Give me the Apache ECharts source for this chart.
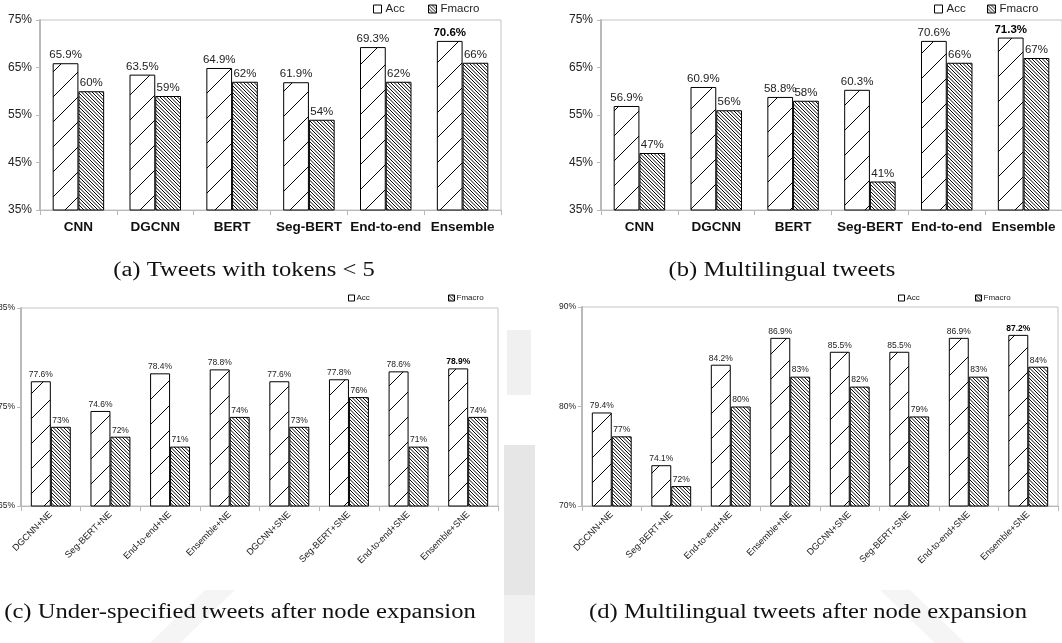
<!DOCTYPE html>
<html>
<head>
<meta charset="utf-8">
<script src="https://cdn.jsdelivr.net/npm/echarts@6/dist/echarts.min.js"></script>
<style>
  html, body { margin: 0; padding: 0; background: #fff; }
  #chart { width: 1062px; height: 643px; }
</style>
</head>
<body>
<div id="chart"></div>
<script>
// Panel (a) and (b): single-stage models
const categoriesAB = ['CNN', 'DGCNN', 'BERT', 'Seg-BERT', 'End-to-end', 'Ensemble'];
const accA = [65.9, 63.5, 64.9, 61.9, 69.3, 70.6];
const fmacroA = [60, 59, 62, 54, 62, 66];
const accB = [56.9, 60.9, 58.8, 60.3, 70.6, 71.3];
const fmacroB = [47, 56, 58, 41, 66, 67];

// Panel (c) and (d): models after node expansion
const categoriesCD = ['DGCNN+NE', 'Seg-BERT+NE', 'End-to-end+NE', 'Ensemble+NE',
                      'DGCNN+SNE', 'Seg-BERT+SNE', 'End-to-end+SNE', 'Ensemble+SNE'];
const accC = [77.6, 74.6, 78.4, 78.8, 77.6, 77.8, 78.6, 78.9];
const fmacroC = [73, 72, 71, 74, 73, 76, 71, 74];
const accD = [79.4, 74.1, 84.2, 86.9, 85.5, 85.5, 86.9, 87.2];
const fmacroD = [77, 72, 80, 83, 82, 79, 83, 84];

const captions = [
  '(a) Tweets with tokens < 5',
  '(b) Multilingual tweets',
  '(c) Under-specified tweets after node expansion',
  '(d) Multilingual tweets after node expansion'
];

// Hatch fills
function sparseHatch() {
  const s = 25, c = document.createElement('canvas');
  c.width = s; c.height = s;
  const g = c.getContext('2d');
  g.fillStyle = '#fff'; g.fillRect(0, 0, s, s);
  g.strokeStyle = '#000'; g.lineWidth = 1;
  for (const o of [0, s]) {
    g.beginPath(); g.moveTo(o - s - 1, s + 1); g.lineTo(o + 1, -1); g.stroke();
  }
  g.beginPath(); g.moveTo(-1, s + 1); g.lineTo(s + 1, -1); g.stroke();
  return c;
}
function denseHatch() {
  const s = 7, c = document.createElement('canvas');
  c.width = s; c.height = s;
  const g = c.getContext('2d');
  g.fillStyle = '#fff'; g.fillRect(0, 0, s, s);
  g.strokeStyle = '#000'; g.lineWidth = 1;
  for (const o of [-7, -3.5, 0, 3.5, 7]) {
    g.beginPath(); g.moveTo(o - 1, -1); g.lineTo(o + s + 1, s + 1); g.stroke();
  }
  return c;
}
const accFill = { image: sparseHatch(), repeat: 'repeat' };
const fmacroFill = { image: denseHatch(), repeat: 'repeat' };

const FONT = 'Liberation Sans, Arial, sans-serif';
const AXIS_GREY = '#b9b9b9';

const panels = [
  { cats: categoriesAB, acc: accA, f: fmacroA, min: 35, max: 75,
    grid: { left: 40, top: 20, width: 461, height: 190 },
    big: true, legendAcc: [373, 3], legendF: [428, 3] },
  { cats: categoriesAB, acc: accB, f: fmacroB, min: 35, max: 75,
    grid: { left: 601, top: 20, width: 461, height: 190 },
    big: true, legendAcc: [934, 3], legendF: [987, 3] },
  { cats: categoriesCD, acc: accC, f: fmacroC, min: 65, max: 85,
    grid: { left: 21, top: 308, width: 477, height: 198 },
    big: false, legendAcc: [348, 294], legendF: [448, 294] },
  { cats: categoriesCD, acc: accD, f: fmacroD, min: 70, max: 90,
    grid: { left: 582, top: 307, width: 476, height: 199 },
    big: false, legendAcc: [898, 294], legendF: [975, 294] }
];

const grid = [], xAxis = [], yAxis = [], series = [], legend = [];

panels.forEach((p, i) => {
  const labelSize = p.big ? 11.5 : 8.5;
  grid.push(Object.assign({
    show: true, backgroundColor: '#fff', borderColor: '#c4c4c4', borderWidth: 1,
    containLabel: false, outerBoundsMode: 'none'
  }, p.grid));
  xAxis.push({
    type: 'category', gridIndex: i, data: p.cats,
    axisLine: { lineStyle: { color: AXIS_GREY, width: 1 } },
    axisTick: { show: true, length: 5, lineStyle: { color: AXIS_GREY } },
    axisLabel: p.big
      ? { fontFamily: FONT, fontSize: 13.5, fontWeight: 'bold', color: '#111', margin: 10, interval: 0 }
      : { fontFamily: FONT, fontSize: 9.2, color: '#222', rotate: 45, margin: 7, interval: 0 }
  });
  yAxis.push({
    type: 'value', gridIndex: i, min: p.min, max: p.max, interval: 10,
    splitLine: { show: false },
    axisLine: { show: true, lineStyle: { color: AXIS_GREY, width: 2 } },
    axisTick: { show: true, length: 4, lineStyle: { color: AXIS_GREY } },
    axisLabel: { formatter: '{value}%', fontFamily: FONT,
                 fontSize: p.big ? 12 : 8.5, color: '#222', margin: p.big ? 8 : 6 }
  });
  const last = p.acc.length - 1;
  series.push({
    name: 'Acc', type: 'bar', xAxisIndex: i, yAxisIndex: i,
    barGap: '0%', barCategoryGap: '33%',
    itemStyle: { color: accFill, borderColor: '#000', borderWidth: 1 },
    label: { show: true, position: 'top', distance: 2, fontFamily: FONT,
             fontSize: labelSize, color: '#222',
             formatter: d => d.value.toFixed(1) + '%' },
    data: p.acc.map((v, k) => k === last
      ? { value: v, label: { fontWeight: 'bold', color: '#000' } }
      : v)
  });
  series.push({
    name: 'Fmacro', type: 'bar', xAxisIndex: i, yAxisIndex: i,
    barGap: '0%', barCategoryGap: '33%',
    itemStyle: { color: fmacroFill, borderColor: '#000', borderWidth: 1 },
    label: { show: true, position: 'top', distance: 2, fontFamily: FONT,
             fontSize: labelSize, color: '#222', formatter: '{c}%' },
    data: p.f
  });
  const legendBase = {
    orient: 'horizontal', padding: 0, selectedMode: false,
    itemWidth: p.big ? 8 : 6, itemHeight: p.big ? 8 : 6, itemGap: 6,
    textStyle: { fontFamily: FONT, fontSize: p.big ? 11.5 : 8, color: '#222',
                 padding: p.big ? [0, 0, 0, -1] : [0, 0, 0, -3] }
  };
  legend.push(Object.assign({}, legendBase, {
    left: p.legendAcc[0], top: p.legendAcc[1],
    data: [{ name: 'Acc', icon: 'rect',
             itemStyle: { color: '#fff', borderColor: '#000', borderWidth: 1 } }]
  }));
  legend.push(Object.assign({}, legendBase, {
    left: p.legendF[0], top: p.legendF[1],
    data: [{ name: 'Fmacro', icon: 'rect',
             itemStyle: { color: fmacroFill, borderColor: '#000', borderWidth: 1 } }]
  }));
});

// Faint background emblem behind the lower panels
const emblem = [
  { type: 'rect', shape: { x: 504, y: 445, width: 31, height: 150 }, style: { fill: '#e6e6e6' } },
  { type: 'rect', shape: { x: 504, y: 595, width: 31, height: 48 }, style: { fill: '#f1f1f1' } },
  { type: 'rect', shape: { x: 507, y: 330, width: 24, height: 65 }, style: { fill: '#f0f0f0' } },
  { type: 'polygon', shape: { points: [[150, 643], [205, 590], [235, 590], [180, 643]] }, style: { fill: '#f5f5f5' } },
  { type: 'polygon', shape: { points: [[880, 590], [910, 590], [965, 643], [935, 643]] }, style: { fill: '#f5f5f5' } }
].map(e => Object.assign(e, { silent: true, z: -10, zlevel: 0 }));

const captionPos = [[244, 271], [782, 271], [240, 613], [808, 613]];
const captionEls = captions.map((t, i) => ({
  type: 'text', x: captionPos[i][0], y: captionPos[i][1], scaleX: 1.23,
  style: {
    text: t, fill: '#111', font: '20px "Liberation Serif", "DejaVu Serif", serif',
    textAlign: 'center', textVerticalAlign: 'middle'
  },
  silent: true
}));

const chart = echarts.init(document.getElementById('chart'), null, { renderer: 'canvas' });
chart.setOption({
  animation: false,
  backgroundColor: '#fff',
  grid, xAxis, yAxis, series, legend,
  graphic: emblem.concat(captionEls)
});
</script>
</body>
</html>
